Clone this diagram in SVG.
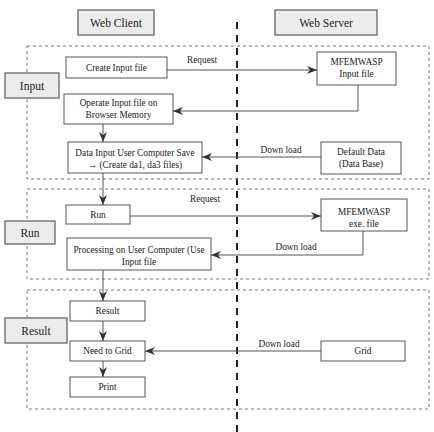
<svg xmlns="http://www.w3.org/2000/svg" width="434" height="432" viewBox="0 0 434 432">
<style>
text{font-family:"Liberation Serif","Times New Roman",serif;fill:#222;text-anchor:middle}
.t{font-size:9.3px}
.h{font-size:11.5px}
.box{fill:#fff;stroke:#555;stroke-width:1}
.lab{fill:#ececec;stroke:#666;stroke-width:1.3}
.zone{fill:none;stroke:#777;stroke-width:1;stroke-dasharray:3,3}
.conn{fill:none;stroke:#555;stroke-width:1;marker-end:url(#ah)}
</style>
<defs>
<marker id="ah" markerUnits="userSpaceOnUse" markerWidth="10" markerHeight="8" refX="10" refY="4" orient="auto">
<path d="M0,0 L10,4 L0,8 L3,4 z" fill="#333"/>
</marker>
</defs>
<rect width="434" height="432" fill="#fff"/>
<line x1="237" y1="22" x2="237" y2="432" stroke="#222" stroke-width="2" stroke-dasharray="7,6"/>
<g id="zones">
<rect class="zone" x="27" y="46" width="402" height="133"/>
<rect class="zone" x="27" y="189" width="402" height="90"/>
<rect class="zone" x="27" y="290" width="402" height="119"/>
</g>
<g id="web-client"><rect class="lab" x="78" y="10" width="76" height="25"/><text class="h" x="116" y="26.5">Web Client</text></g>
<g id="web-server"><rect class="lab" x="275" y="10" width="102" height="25"/><text class="h" x="326" y="26.5">Web Server</text></g>
<g id="input-label"><rect class="lab" x="5" y="73" width="54" height="25"/><text class="h" x="32" y="89.5">Input</text></g>
<g id="run-label"><rect class="lab" x="5" y="221" width="50" height="23"/><text class="h" x="30" y="236.5">Run</text></g>
<g id="result-label"><rect class="lab" x="5" y="318" width="62" height="25"/><text class="h" x="36" y="334.5">Result</text></g>
<g id="create-input"><rect class="box" x="66" y="57" width="101" height="21"/><text class="t" x="116.5" y="70.5">Create Input file</text></g>
<g id="mfem-input"><rect class="box" x="317" y="52" width="79" height="33"/><text class="t" x="356.5" y="65">MFEMWASP</text><text class="t" x="356.5" y="77">Input file</text></g>
<g id="operate"><rect class="box" x="64" y="94" width="109" height="30"/><text class="t" x="118.5" y="105.5">Operate Input file on</text><text class="t" x="118.5" y="117.5">Browser Memory</text></g>
<g id="data-input"><rect class="box" x="68" y="142" width="134" height="31"/><text class="t" x="135" y="155.5">Data Input User Computer Save</text><text class="t" x="135" y="167.5">→ (Create da1, da3 files)</text></g>
<g id="default-data"><rect class="box" x="321" y="142" width="80" height="32"/><text class="t" x="361" y="154.5">Default Data</text><text class="t" x="361" y="166.5">(Data Base)</text></g>
<g id="run"><rect class="box" x="66" y="205" width="64" height="19"/><text class="t" x="98" y="217.5">Run</text></g>
<g id="mfem-exe"><rect class="box" x="321" y="199" width="86" height="32"/><text class="t" x="364" y="214.5">MFEMWASP</text><text class="t" x="364" y="226.5">exe. file</text></g>
<g id="processing"><rect class="box" x="67" y="238" width="144" height="32"/><text class="t" x="139" y="252.5">Processing on User Computer (Use</text><text class="t" x="139" y="264.5">Input file</text></g>
<g id="result"><rect class="box" x="70" y="301" width="75" height="20"/><text class="t" x="107.5" y="314">Result</text></g>
<g id="need-grid"><rect class="box" x="70" y="341" width="75" height="20"/><text class="t" x="107.5" y="354">Need to Grid</text></g>
<g id="print"><rect class="box" x="70" y="377" width="75" height="20"/><text class="t" x="107.5" y="390">Print</text></g>
<g id="grid"><rect class="box" x="321" y="341" width="84" height="20"/><text class="t" x="363" y="354">Grid</text></g>
<g id="connectors">
<path class="conn" d="M167,70 H317"/>
<path class="conn" d="M358,85 V111 H173"/>
<path class="conn" d="M103,124 V142"/>
<path class="conn" d="M321,157 H202"/>
<path class="conn" d="M103,173 V205"/>
<path class="conn" d="M130,216 H321"/>
<path class="conn" d="M363,231 V255 H211"/>
<path class="conn" d="M103,270 V301"/>
<path class="conn" d="M103,321 V341"/>
<path class="conn" d="M103,361 V377"/>
<path class="conn" d="M321,351 H145"/>
<text class="t" x="202" y="62.5">Request</text>
<text class="t" x="281" y="152.5">Down load</text>
<text class="t" x="205" y="201.5">Request</text>
<text class="t" x="296" y="249.5">Down load</text>
<text class="t" x="279" y="346.5">Down load</text>
</g>
</svg>
